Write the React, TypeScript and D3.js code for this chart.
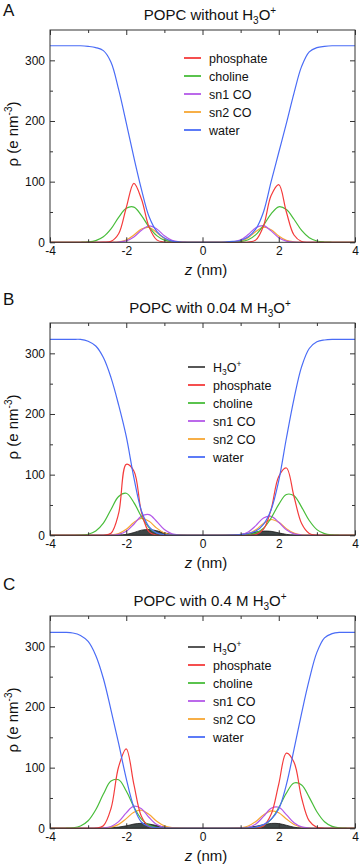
import React, { useRef, useEffect } from 'react'
import * as d3 from 'd3'

// z grid (nm) shared by every profile
const z = [-4, -3.8, -3.6, -3.4, -3.2, -3, -2.8, -2.6, -2.4, -2.2, -2, -1.8, -1.6, -1.4, -1.2, -1, -0.8, -0.6, -0.4, -0.2, 0,
  0.2, 0.4, 0.6, 0.8, 1, 1.2, 1.4, 1.6, 1.8, 2, 2.2, 2.4, 2.6, 2.8, 3, 3.2, 3.4, 3.6, 3.8, 4]

// panel A: POPC without H3O+
const waterA = [324, 324, 324, 324, 324, 323, 321, 316, 297, 252, 197, 140, 87, 42, 18, 7, 2, 0.5, 0, 0, 0,
  0, 0, 0.5, 1.5, 3, 9, 22, 50, 100, 148, 196, 246, 290, 314, 321, 323, 324, 324, 324, 324]
const phosA = [0, 0, 0, 0, 0, 0, 0, 0.2, 1.5, 14, 57, 97, 71, 25, 4, 0.4, 0, 0, 0, 0, 0,
  0, 0, 0, 0, 0, 0.3, 4, 27, 77, 95, 50, 12, 1.2, 0, 0, 0, 0, 0, 0, 0]
const cholA = [0, 0, 0, 0, 0.1, 0.6, 2.7, 9, 22, 41, 56, 58, 44, 25, 11, 3.5, 0.8, 0.1, 0, 0, 0,
  0, 0, 0, 0.2, 1.1, 4.2, 12.6, 28, 47, 58.5, 54, 38, 19.6, 7.6, 2.2, 0.5, 0.1, 0, 0, 0]
const sn1A = [0, 0, 0, 0, 0, 0, 0, 0, 0, 0.4, 2.3, 8.8, 19.8, 27, 22, 10.8, 3.2, 0.6, 0.1, 0, 0,
  0, 0, 0.1, 0.8, 4, 12.8, 24, 27.5, 18.8, 7.7, 1.9, 0.3, 0, 0, 0, 0, 0, 0, 0, 0]
const sn2A = [0, 0, 0, 0, 0, 0, 0, 0, 0.1, 0.8, 3.9, 12, 22, 24.4, 16, 6.5, 1.6, 0.2, 0, 0, 0,
  0, 0, 0, 0.3, 2, 7.7, 17.8, 25, 20.8, 10.5, 3.2, 0.6, 0.1, 0, 0, 0, 0, 0, 0, 0]

// panel B: 0.04 M H3O+
const waterB = [323, 323, 323, 323, 323, 320, 312, 293, 260, 215, 163, 95, 40, 14, 4, 1, 0.3, 0, 0, 0, 0,
  0, 0, 0, 0.3, 1, 3, 7, 18, 42, 90, 160, 225, 278, 308, 319, 322, 323, 323, 323, 323]
const phosB = [0, 0, 0, 0, 0, 0, 0, 0.1, 3.4, 36, 117, 106, 38, 5.6, 0.3, 0, 0, 0, 0, 0, 0,
  0, 0, 0, 0, 0, 0, 1.2, 10, 43, 97, 111, 64, 19.4, 3, 0.2, 0, 0, 0, 0, 0]
const cholB = [0, 0, 0, 0, 0.3, 1.8, 7, 20, 42.5, 64, 69.3, 54, 30.6, 12.5, 3.7, 0.8, 0.1, 0, 0, 0, 0,
  0, 0, 0, 0, 0.1, 0.8, 3.5, 11.6, 28.5, 51, 67.3, 65.3, 46.5, 24.4, 9.4, 2.7, 0.6, 0.1, 0, 0]
const sn1B = [0, 0, 0, 0, 0, 0, 0, 0, 0.2, 1.5, 6.6, 18.3, 31.6, 34, 22.7, 9.4, 2.4, 0.4, 0, 0, 0,
  0, 0, 0, 0.2, 1.2, 5.6, 16, 28.5, 31.3, 21.4, 9, 2.4, 0.4, 0, 0, 0, 0, 0, 0, 0]
const sn2B = [0, 0, 0, 0, 0, 0, 0, 0.1, 0.5, 2.8, 9.8, 21, 28, 23, 11.8, 3.8, 0.7, 0.1, 0, 0, 0,
  0, 0, 0, 0, 0.5, 2.6, 9.1, 19.5, 26, 21.4, 11, 3.5, 0.7, 0.1, 0, 0, 0, 0, 0, 0]
const h3oB = [0, 0, 0, 0, 0, 0, 0, 0, 0, 0.5, 1.5, 4.5, 8.5, 9.5, 7.5, 4, 1.5, 0.5, 0, 0, 0,
  0, 0, 0.2, 0.6, 1.5, 3.5, 5.5, 7, 6.5, 4, 1.5, 0.4, 0, 0, 0, 0, 0, 0, 0, 0]

// panel C: 0.4 M H3O+
const waterC = [323, 323, 323, 322, 318, 308, 285, 247, 195, 140, 82, 35, 10, 3, 1, 0.3, 0, 0, 0, 0, 0,
  0, 0, 0, 0, 0, 0.5, 2, 6, 15, 32, 72, 130, 190, 245, 290, 314, 321, 323, 323, 323]
const phosC = [0, 0, 0, 0, 0, 0, 0.2, 4.2, 32.6, 101.5, 131, 72.6, 19.3, 2.4, 0.1, 0, 0, 0, 0, 0, 0,
  0, 0, 0, 0, 0, 0, 0.3, 3.9, 23, 73, 124, 109, 50, 12.2, 1.6, 0.1, 0, 0, 0, 0]
const cholC = [0, 0, 0.1, 0.8, 3.7, 12.4, 30.6, 56.4, 77.8, 80, 61.6, 35.3, 15.2, 4.8, 1.2, 0.2, 0, 0, 0, 0, 0,
  0, 0, 0, 0, 0, 0.2, 1.2, 4.8, 14.7, 34, 58, 74.6, 71.5, 51, 27.3, 10.9, 3.2, 0.7, 0.1, 0]
const sn1C = [0, 0, 0, 0, 0, 0, 0.1, 0.5, 3, 11, 25.5, 36.5, 32.4, 17.8, 6.1, 1.3, 0.2, 0, 0, 0, 0,
  0, 0, 0, 0, 0.2, 1.6, 7.2, 19.6, 33, 34.7, 22.6, 9.1, 2.3, 0.4, 0, 0, 0, 0, 0, 0]
const sn2C = [0, 0, 0, 0, 0, 0, 0, 0.3, 1.8, 6.5, 16, 26.5, 29.8, 22.6, 11.7, 4, 1, 0.2, 0, 0, 0,
  0, 0, 0, 0.1, 0.9, 3.9, 11.3, 21.9, 28.8, 25.6, 15.4, 6.3, 1.7, 0.3, 0, 0, 0, 0, 0, 0]
const h3oC = [0, 0, 0, 0, 0, 0, 0, 0.2, 0.8, 2, 4, 7, 8.2, 7, 4.5, 2, 0.6, 0.1, 0, 0, 0,
  0, 0, 0, 0.2, 0.6, 1.5, 3.3, 6, 8, 7.8, 5, 1.8, 0.5, 0.1, 0, 0, 0, 0, 0, 0]

const xMajor = [-4, -2, 0, 2, 4]
const xMinor = [-3, -1, 1, 3]
const yMajor = [0, 100, 200, 300]
const yMinor = [50, 150, 250]

const colors = {
  h3o: '#444',
  phos: '#f43c3c',
  chol: '#48bd3a',
  sn1: '#b459e8',
  sn2: '#f7a633',
  water: '#4a6cf6',
}

const panels = [
  { letter: 'A', letterY: 16, top: 0, prefix: 'POPC without H', h3o: null, phos: phosA, chol: cholA, sn1: sn1A, sn2: sn2A, water: waterA, legY: 58, legX: 184 },
  { letter: 'B', letterY: 305, top: 293, prefix: 'POPC with 0.04 M H', h3o: h3oB, phos: phosB, chol: cholB, sn1: sn1B, sn2: sn2B, water: waterB, legY: 74, legX: 188 },
  { letter: 'C', letterY: 590, top: 586, prefix: 'POPC with 0.4 M H', h3o: h3oC, phos: phosC, chol: cholC, sn1: sn1C, sn2: sn2C, water: waterC, legY: 61, legX: 188 },
]

const font = 'Liberation Sans, Arial, Helvetica, sans-serif'

const App = () => {
  const ref = useRef<SVGSVGElement>(null)
  useEffect(() => {
    const svg = d3.select(ref.current)
    svg.selectAll('*').remove()
    svg.style('font-family', font)

    const x = d3.scaleLinear().domain([-4, 4]).range([50, 355])
    const y = d3.scaleLinear().domain([0, 350]).range([242.3, 30])

    const line = d3.line<number>()
      .x((d, i) => x(z[i]))
      .y(d => y(d))
      .curve(d3.curveCatmullRom.alpha(0.5))
    const area = d3.area<number>()
      .x((d, i) => x(z[i]))
      .y0(y(0))
      .y1(d => y(d))
      .curve(d3.curveCatmullRom.alpha(0.5))

    // panel letters
    panels.forEach(p => {
      svg.append('text')
        .attr('x', 3).attr('y', p.letterY)
        .attr('font-size', 17).attr('fill', '#111')
        .text(p.letter)
    })

    panels.forEach((p, pi) => {
      const g = svg.append('g').attr('transform', `translate(0, ${p.top})`)

      // title with H3O+
      const t = g.append('text')
        .attr('x', 210).attr('y', 20)
        .attr('text-anchor', 'middle')
        .attr('font-size', 15).attr('fill', '#111')
      t.append('tspan').text(p.prefix)
      t.append('tspan').attr('font-size', 10).attr('dy', 4).text('3')
      t.append('tspan').attr('dy', -4).text('O')
      t.append('tspan').attr('font-size', 10).attr('dy', -6).text('+')

      // clip
      const clipId = `clip${pi}`
      g.append('clipPath').attr('id', clipId)
        .append('rect')
        .attr('x', x(-4)).attr('y', y(350))
        .attr('width', x(4) - x(-4)).attr('height', y(0) - y(350) + 0.5)

      const plot = g.append('g').attr('clip-path', `url(#${clipId})`)
      if (p.h3o) {
        plot.append('path')
          .attr('d', area(p.h3o))
          .attr('fill', '#3e4646')
          .attr('stroke', '#1a1a1a')
          .attr('stroke-width', 0.8)
      }
      const series = [
        { d: p.sn2, c: colors.sn2 },
        { d: p.sn1, c: colors.sn1 },
        { d: p.chol, c: colors.chol },
        { d: p.phos, c: colors.phos },
        { d: p.water, c: colors.water },
      ]
      series.forEach(s => {
        plot.append('path')
          .attr('d', line(s.d))
          .attr('fill', 'none')
          .attr('stroke', s.c)
          .attr('stroke-width', 1.2)
      })

      // axes, ticks pointing inward on all four sides
      const styleAxis = (a: any) => {
        a.select('.domain').remove()
        a.selectAll('line').attr('stroke', '#333')
        a.selectAll('text').attr('font-size', 12).attr('fill', '#111').attr('font-family', font)
      }
      g.append('g').attr('transform', `translate(0, ${y(0)})`)
        .call(d3.axisBottom(x).tickValues(xMajor).tickSize(-5).tickPadding(4).tickFormat(d => String(d)))
        .call(styleAxis)
      g.append('g').attr('transform', `translate(0, ${y(0)})`)
        .call(d3.axisBottom(x).tickValues(xMinor).tickSize(-3).tickFormat(() => ''))
        .call(styleAxis)
      g.append('g').attr('transform', `translate(0, ${y(350)})`)
        .call(d3.axisTop(x).tickValues(xMajor).tickSize(-5).tickFormat(() => ''))
        .call(styleAxis)
      g.append('g').attr('transform', `translate(0, ${y(350)})`)
        .call(d3.axisTop(x).tickValues(xMinor).tickSize(-3).tickFormat(() => ''))
        .call(styleAxis)
      g.append('g').attr('transform', `translate(${x(-4)}, 0)`)
        .call(d3.axisLeft(y).tickValues(yMajor).tickSize(-5).tickPadding(5).tickFormat(d => String(d)))
        .call(styleAxis)
      g.append('g').attr('transform', `translate(${x(-4)}, 0)`)
        .call(d3.axisLeft(y).tickValues(yMinor).tickSize(-3).tickFormat(() => ''))
        .call(styleAxis)
      g.append('g').attr('transform', `translate(${x(4)}, 0)`)
        .call(d3.axisRight(y).tickValues(yMajor).tickSize(-5).tickFormat(() => ''))
        .call(styleAxis)
      g.append('g').attr('transform', `translate(${x(4)}, 0)`)
        .call(d3.axisRight(y).tickValues(yMinor).tickSize(-3).tickFormat(() => ''))
        .call(styleAxis)

      // frame
      g.append('rect')
        .attr('x', x(-4)).attr('y', y(350))
        .attr('width', x(4) - x(-4)).attr('height', y(0) - y(350))
        .attr('fill', 'none').attr('stroke', '#333').attr('stroke-width', 1)

      // axis labels
      const xl = g.append('text')
        .attr('x', 206).attr('y', 275)
        .attr('text-anchor', 'middle').attr('font-size', 15).attr('fill', '#111')
      xl.append('tspan').attr('font-style', 'italic').text('z')
      xl.append('tspan').text(' (nm)')

      const yl = g.append('text')
        .attr('transform', 'translate(18, 134) rotate(-90)')
        .attr('text-anchor', 'middle').attr('font-size', 15).attr('fill', '#111')
      yl.append('tspan').text('ρ (e nm')
      yl.append('tspan').attr('font-size', 10).attr('dy', -6).text('-3')
      yl.append('tspan').attr('dy', 6).text(')')

      // legend
      const items: { c: string, label: string, h3o?: boolean }[] = []
      if (p.h3o) items.push({ c: colors.h3o, label: 'H', h3o: true })
      items.push({ c: colors.phos, label: 'phosphate' })
      items.push({ c: colors.chol, label: 'choline' })
      items.push({ c: colors.sn1, label: 'sn1 CO' })
      items.push({ c: colors.sn2, label: 'sn2 CO' })
      items.push({ c: colors.water, label: 'water' })
      items.forEach((it, k) => {
        const ly = p.legY + k * 18
        g.append('line')
          .attr('x1', p.legX).attr('x2', p.legX + 17)
          .attr('y1', ly).attr('y2', ly)
          .attr('stroke', it.c).attr('stroke-width', 1.8)
        const lt = g.append('text')
          .attr('x', p.legX + 25).attr('y', ly).attr('dy', '0.36em')
          .attr('font-size', 12.5).attr('fill', '#111')
        lt.append('tspan').text(it.label)
        if (it.h3o) {
          lt.append('tspan').attr('font-size', 8.5).attr('dy', 3).text('3')
          lt.append('tspan').attr('dy', -3).text('O')
          lt.append('tspan').attr('font-size', 8.5).attr('dy', -5).text('+')
        }
      })
    })
  }, [])

  return (
    <svg ref={ref} width={360} height={868}
      style={{ position: 'absolute', left: 0, top: 0, background: 'white' }} />
  )
}

export default App
